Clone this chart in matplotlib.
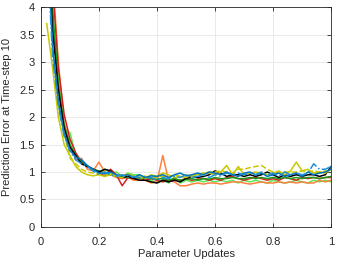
import numpy as np
import matplotlib.pyplot as plt

plt.rcParams['font.family'] = ['Liberation Sans', 'DejaVu Sans']

# parameter updates (fraction of training)
updates = [0.02, 0.04, 0.06, 0.08, 0.10, 0.12, 0.14, 0.16, 0.18, 0.20,
           0.22, 0.24, 0.26, 0.28, 0.30, 0.32, 0.34, 0.36, 0.38, 0.40,
           0.42, 0.44, 0.46, 0.48, 0.50, 0.52, 0.54, 0.56, 0.58, 0.60,
           0.62, 0.64, 0.66, 0.68, 0.70, 0.72, 0.74, 0.76, 0.78, 0.80,
           0.82, 0.84, 0.86, 0.88, 0.90, 0.92, 0.94, 0.96, 0.98, 1.00]

err_blue = [5.5, 3.3, 2.3, 1.7, 1.4, 1.27, 1.22, 1.12, 1.05, 0.98,
            0.97, 1.0, 0.95, 0.93, 0.95, 0.9, 0.95, 0.9, 0.93, 0.92,
            0.95, 0.9, 0.95, 0.98, 0.93, 0.95, 0.98, 0.95, 1.0, 0.98,
            0.95, 1.0, 0.95, 0.92, 0.98, 1.0, 0.95, 0.98, 0.92, 0.95,
            0.98, 0.92, 0.95, 0.98, 0.92, 1.0, 0.95, 0.98, 1.0, 1.05]
err_blue2 = [5.2, 3.1, 2.2, 1.65, 1.38, 1.22, 1.15, 1.1, 1.02, 0.95,
             1.0, 0.95, 0.92, 0.95, 0.9, 0.92, 0.9, 0.88, 0.9, 0.85,
             0.9, 0.88, 0.92, 0.9, 0.95, 0.9, 0.92, 0.95, 0.9, 0.95,
             0.92, 0.98, 0.95, 0.98, 0.95, 0.98, 0.95, 1.0, 0.95, 0.98,
             0.92, 1.0, 0.95, 0.98, 0.95, 0.98, 1.15, 1.05, 1.05, 1.1]
err_yellow = [3.7, 2.9, 2.0, 1.5, 1.3, 1.1, 1.0, 0.95, 0.93, 0.95,
              0.92, 0.95, 0.92, 0.9, 0.97, 0.92, 0.9, 0.88, 0.95, 0.92,
              0.98, 0.95, 0.9, 0.92, 0.9, 0.95, 0.95, 0.98, 0.98, 0.95,
              1.0, 1.12, 0.95, 1.1, 0.95, 0.98, 1.0, 0.98, 0.95, 0.98,
              1.02, 0.95, 1.02, 1.18, 1.02, 1.05, 0.98, 1.0, 0.98, 1.05]
err_yellow2 = [np.nan, 3.3, 2.2, 1.7, 1.25, 1.15, 1.05, 1.0, 0.98, 0.96,
               0.95, 0.98, 0.94, 0.95, 0.95, 0.92, 0.94, 0.92, 0.9, 0.9,
               0.92, 0.9, 0.95, 0.92, 0.95, 0.92, 0.95, 0.98, 1.0, 1.0,
               1.02, 1.0, 0.98, 1.05, 1.05, 1.08, 1.1, 1.12, 1.05, 1.0,
               0.98, 1.0, 1.0, 1.0, 1.02, 1.0, 1.02, 1.0, 1.02, 1.0]
err_black = [6.0, 3.6, 2.5, 1.8, 1.45, 1.3, 1.15, 1.1, 1.05, 1.0,
             1.05, 1.02, 0.92, 0.9, 0.92, 0.88, 0.85, 0.85, 0.82, 0.8,
             0.85, 0.82, 0.85, 0.82, 0.88, 0.92, 0.9, 0.92, 0.95, 1.02,
             0.98, 0.92, 0.95, 0.95, 0.92, 0.95, 0.92, 0.95, 1.0, 0.95,
             0.9, 0.95, 0.92, 0.95, 0.92, 0.95, 0.95, 0.92, 0.95, 1.1]
err_red = [7.0, 4.4, 2.9, 2.05, 1.6, 1.35, 1.18, 1.1, 1.05, 1.0,
           0.92, 1.05, 0.95, 0.75, 0.9, 0.88, 0.9, 0.85, 0.88, 0.85,
           0.82, 0.85, 0.87, 0.85, 0.88, 0.85, 0.87, 0.88, 0.85, 0.88,
           0.85, 0.9, 0.92, 0.88, 0.85, 0.88, 0.9, 0.88, 0.85, 0.88,
           0.85, 0.9, 0.88, 0.85, 0.9, 0.88, 0.9, 0.88, 0.9, 0.9]
err_orange = [7.0, 4.6, 3.0, 1.9, 1.5, 1.22, 1.25, 1.05, 1.02, 1.18,
              1.0, 0.95, 0.9, 0.88, 0.9, 0.85, 0.85, 0.85, 0.8, 0.82,
              1.3, 0.85, 0.82, 0.75, 0.75, 0.78, 0.8, 0.78, 0.8, 0.8,
              0.78, 0.8, 0.82, 0.82, 0.8, 0.78, 0.8, 0.82, 0.8, 0.8,
              0.82, 0.8, 0.82, 0.8, 0.82, 0.8, 0.8, 0.85, 0.82, 0.85]
err_lgreen = [6.0, 3.8, 2.7, 1.75, 1.72, 1.3, 1.15, 1.1, 1.05, 1.0,
              1.05, 0.98, 1.0, 0.92, 0.98, 0.95, 0.95, 0.85, 0.85, 0.8,
              0.85, 0.8, 0.9, 0.8, 0.85, 0.82, 0.85, 0.82, 0.85, 0.82,
              0.85, 0.82, 0.85, 0.8, 0.85, 0.82, 0.85, 0.82, 0.8, 0.85,
              0.82, 0.8, 0.82, 0.85, 0.82, 0.8, 0.85, 0.82, 0.85, 0.82]
err_dgreen = [6.5, 4.0, 2.6, 1.85, 1.5, 1.3, 1.2, 1.1, 1.05, 1.02,
              0.98, 0.95, 0.93, 0.92, 0.9, 0.92, 0.88, 0.9, 0.88, 0.87,
              0.88, 0.85, 0.88, 0.85, 0.87, 0.88, 0.85, 0.88, 0.87, 0.9,
              0.88, 0.88, 0.9, 0.88, 0.88, 0.9, 0.88, 0.9, 0.88, 0.9,
              0.88, 0.9, 0.88, 0.9, 0.88, 0.9, 0.9, 0.88, 0.9, 0.92]

series = [
    (err_lgreen, '#55EE55', '-'),
    (err_orange, '#FF7F3F', '-'),
    (err_red, '#D42020', '-'),
    (err_dgreen, '#1A9A1A', '-'),
    (err_black, '#000000', '-'),
    (err_yellow, '#C8C800', '-'),
    (err_yellow2, '#C8C800', '--'),
    (err_blue, '#0072BD', '-'),
    (err_blue2, '#1E90D8', '-.'),
]

xticks = [0, 0.2, 0.4, 0.6, 0.8, 1]
xlabels = ['0', '0.2', '0.4', '0.6', '0.8', '1']
yticks = [0, 0.5, 1, 1.5, 2, 2.5, 3, 3.5, 4]
ylabels = ['0', '0.5', '1', '1.5', '2', '2.5', '3', '3.5', '4']

fig = plt.figure(figsize=(3.41, 2.63), dpi=100)
ax = fig.add_axes([0.12, 0.137, 0.851, 0.836])

for vals, col, ls in series:
    ax.plot(updates, vals, color=col, linestyle=ls, linewidth=1.1)

ax.set_xlim(0, 1)
ax.set_ylim(0, 4)
ax.set_xticks(xticks)
ax.set_xticklabels(xlabels)
ax.set_yticks(yticks)
ax.set_yticklabels(ylabels)
ax.grid(True, color='#e6e6e6', linewidth=0.6)
ax.set_axisbelow(True)
ax.tick_params(direction='in', top=True, right=True, labelsize=8,
               length=3, width=0.6, color='#262626', labelcolor='#262626')
ax.tick_params(axis='x', pad=7)
ax.tick_params(axis='y', pad=4.5)
for s in ax.spines.values():
    s.set_color('#262626')
    s.set_linewidth(0.6)
ax.set_xlabel('Parameter Updates', fontsize=8, color='#262626', labelpad=2)
ax.set_ylabel('Prediction Error at Time-step 10', fontsize=8, color='#262626', labelpad=5)

fig.savefig('out.png', dpi=100)
